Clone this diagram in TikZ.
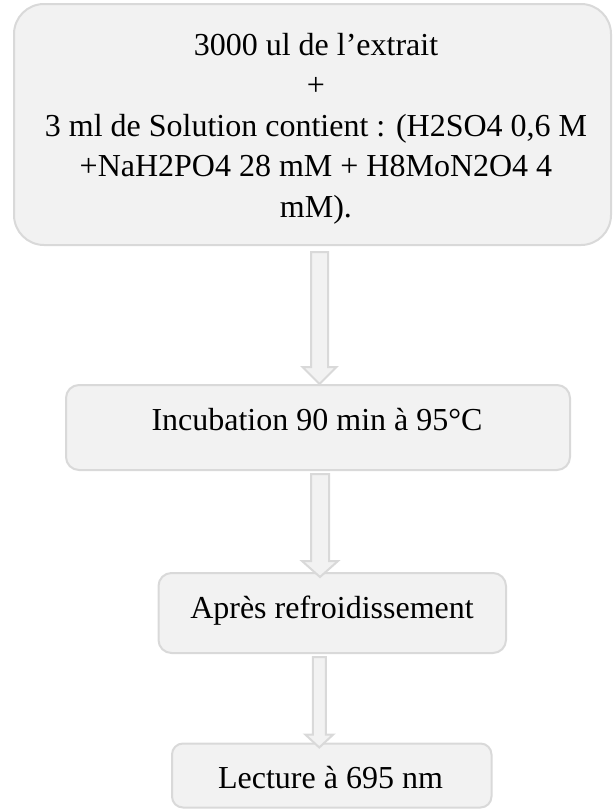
\documentclass[tikz,border=0pt]{standalone}
\usepackage{fontspec}
\setmainfont{Liberation Serif}
\usetikzlibrary{calc}
\definecolor{boxfill}{HTML}{F2F2F2}
\definecolor{boxline}{HTML}{D9D9D9}
\tikzset{
  stepbox/.style={draw=boxline, fill=boxfill, line width=2pt, inner sep=0pt},
  steplabel/.style={align=center, inner sep=0pt, font=\fontsize{32}{40.5}\selectfont},
  flowarrow/.style={draw=boxline, fill=boxfill, line width=2pt, line join=miter}
}
% #1 start, #2 tip, #3 half shaft width, #4 half head width, #5 head length
\newcommand{\flowarrowpath}[5]{%
  \path[flowarrow] let \p1=(#1), \p2=(#2) in
    (\x1-#3,\y1) -- (\x1+#3,\y1) -- (\x1+#3,\y2+#5) --
    (\x1+#4,\y2+#5) -- (\x1,\y2) -- (\x1-#4,\y2+#5) --
    (\x1-#3,\y2+#5) -- cycle;}
\begin{document}
\begin{tikzpicture}[x=1pt,y=1pt]
\useasboundingbox (0,0) rectangle (614,-809);
\node[stepbox, minimum width=597pt, minimum height=241pt, rounded corners=30pt] (b1) at (312.5,-124.5) {};
\node[steplabel, anchor=north] (l1) at (316,-33)
  {3000 ul de l’extrait\\+\\3 ml de Solution contient : (H2SO4 0,6 M\\+NaH2PO4 28 mM + H8MoN2O4 4\\mM).};
\node[stepbox, minimum width=504pt, minimum height=85pt, rounded corners=13pt] (b2) at (318,-427.5) {};
\node[steplabel, anchor=base] (l2) at (317,-430) {Incubation 90 min à 95°C};
\node[stepbox, minimum width=347.5pt, minimum height=80pt, rounded corners=13pt] (b3) at (332.25,-613) {};
\node[steplabel, anchor=base] (l3) at (332,-618) {Après refroidissement};
\node[stepbox, minimum width=319.5pt, minimum height=64pt, rounded corners=11pt] (b4) at (331.75,-775.5) {};
\node[steplabel, anchor=base] (l4) at (330.5,-788) {Lecture à 695 nm};
\coordinate (a1s) at ($(b1.south)+(7,-6)$);
\coordinate (a1e) at ($(b2.north)+(1.5,0)$);
\coordinate (a2s) at ($(b2.south)+(2,-3)$);
\coordinate (a2e) at ($(b3.north)+(-12,-5)$);
\coordinate (a3s) at ($(b3.south)+(-13,-3)$);
\coordinate (a3e) at ($(b4.north)+(-13,-5)$);
\flowarrowpath{a1s}{a1e}{8.5pt}{17pt}{17pt}
\flowarrowpath{a2s}{a2e}{9pt}{18pt}{16pt}
\flowarrowpath{a3s}{a3e}{6.5pt}{14pt}{13pt}
\end{tikzpicture}
\end{document}
